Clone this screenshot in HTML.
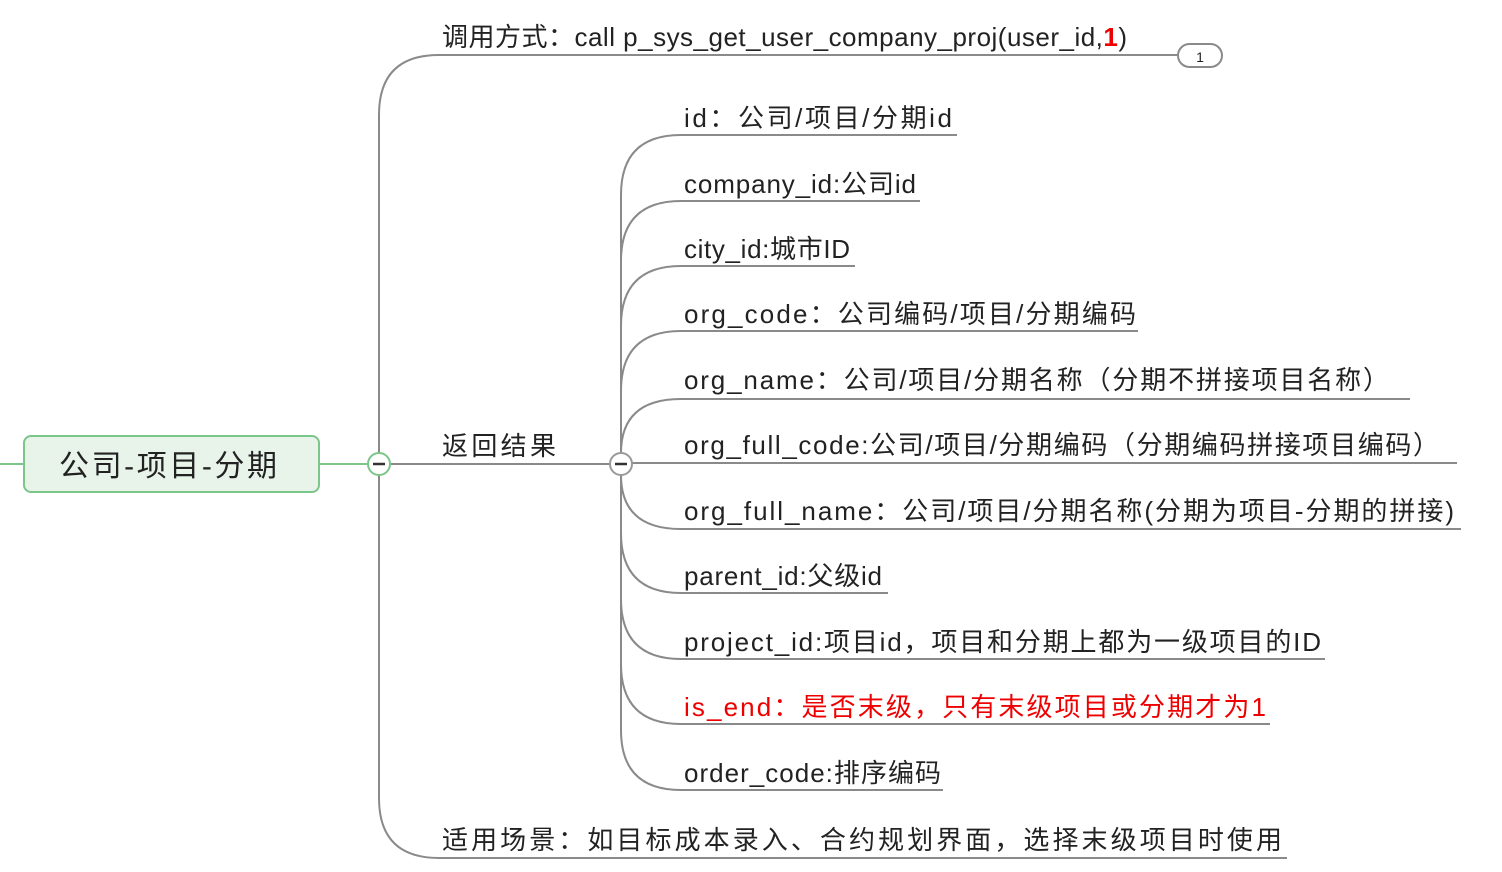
<!DOCTYPE html>
<html><head><meta charset="utf-8"><style>
html,body{margin:0;padding:0;background:#fff;width:1502px;height:872px;overflow:hidden}
text{font-family:"Liberation Sans","Noto Sans CJK SC",sans-serif;font-size:26px;fill:#222}
</style></head><body>
<svg width="1502" height="872" viewBox="0 0 1502 872" xmlns="http://www.w3.org/2000/svg">
<g fill="none" stroke="#8a8a8a" stroke-width="2">
<path d="M379,453 V115 Q379,55 439,55 H1178"/>
<path d="M379,475 V798 Q379,858 439,858 H1287"/>
<path d="M390,464 H610"/>
<path d="M621,453 V195 Q621,135 681,135 H957"/>
<path d="M621,453 V261 Q621,201 681,201 H920"/>
<path d="M621,453 V326 Q621,266 681,266 H855"/>
<path d="M621,453 V391 Q621,331 681,331 H1138"/>
<path d="M621,453 Q621,399 681,399 H1410"/>
<path d="M632,463 H1457"/>
<path d="M621,475 Q621,529 681,529 H1461"/>
<path d="M621,475 V533 Q621,593 681,593 H888"/>
<path d="M621,475 V599 Q621,659 681,659 H1325"/>
<path d="M621,475 V664 Q621,724 681,724 H1270"/>
<path d="M621,475 V730 Q621,790 681,790 H943"/>
<rect x="1178" y="44" width="44" height="23" rx="11.5" fill="#fff"/>
</g>
<text x="1200" y="62" text-anchor="middle" style="font-size:14px">1</text>
<path d="M0,464 H24 M319,464 H368" stroke="#7cc68a" stroke-width="2"/>
<rect x="24" y="436" width="295" height="56" rx="7" fill="#e8f3ea" stroke="#7cc68a" stroke-width="2"/>
<text x="168" y="476" text-anchor="middle" style="font-size:30px" textLength="218">公司-项目-分期</text>
<circle cx="379" cy="464" r="11" fill="#fff" stroke="#7cc68a" stroke-width="2"/>
<path d="M373,464 H385" stroke="#333" stroke-width="2.5"/>
<circle cx="621" cy="464" r="11" fill="#fff" stroke="#999" stroke-width="2"/>
<path d="M615,464 H627" stroke="#333" stroke-width="2.5"/>
<text x="442" y="46" textLength="685">调用方式：call p_sys_get_user_company_proj(user_id,<tspan style="fill:#e00;font-weight:bold">1</tspan>)</text>
<text x="442" y="455" textLength="114">返回结果</text>
<text x="442" y="849" textLength="840">适用场景：如目标成本录入、合约规划界面，选择末级项目时使用</text>
<text x="684" y="127" textLength="268">id：公司/项目/分期id</text>
<text x="684" y="193" textLength="232">company_id:公司id</text>
<text x="684" y="258" textLength="166">city_id:城市ID</text>
<text x="684" y="323" textLength="452">org_code：公司编码/项目/分期编码</text>
<text x="684" y="389" textLength="705">org_name：公司/项目/分期名称（分期不拼接项目名称）</text>
<text x="684" y="454" textLength="755">org_full_code:公司/项目/分期编码（分期编码拼接项目编码）</text>
<text x="684" y="520" textLength="770">org_full_name：公司/项目/分期名称(分期为项目-分期的拼接)</text>
<text x="684" y="585" textLength="198">parent_id:父级id</text>
<text x="684" y="651" textLength="637">project_id:项目id，项目和分期上都为一级项目的ID</text>
<text x="684" y="716" textLength="582" style="fill:#e00">is_end：是否末级，只有末级项目或分期才为1</text>
<text x="684" y="782" textLength="257">order_code:排序编码</text>
</svg>
</body></html>
